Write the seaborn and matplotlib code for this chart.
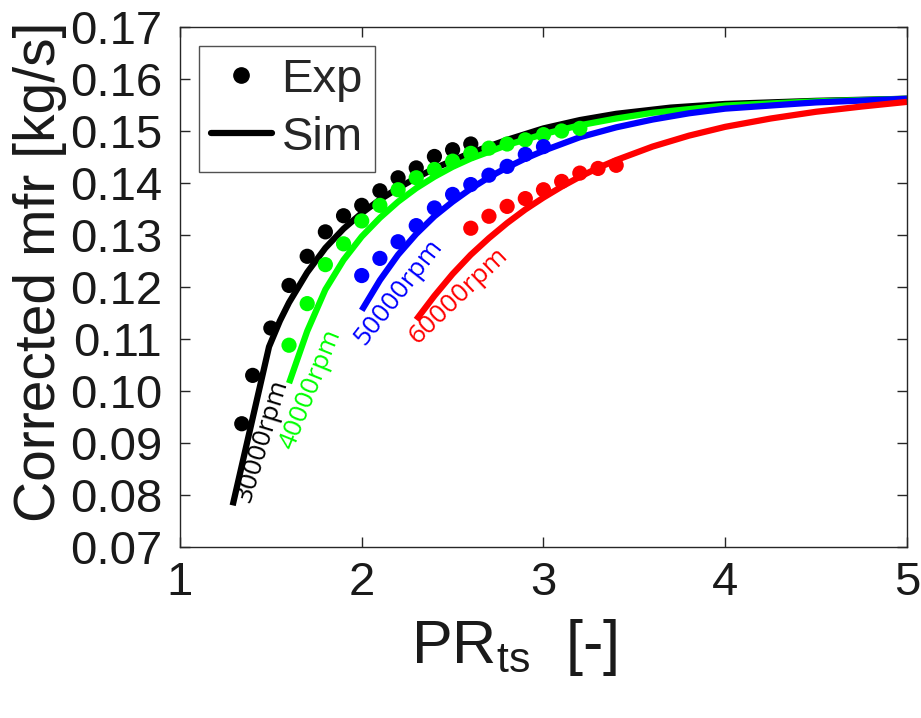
import matplotlib

matplotlib.use("Agg")

import matplotlib.pyplot as plt
import numpy as np
import pandas as pd
import seaborn as sns

# experimental points per speed line
EXP_30K_PR = [1.34, 1.4, 1.5, 1.6, 1.7, 1.8, 1.9, 2.0, 2.1, 2.2, 2.3, 2.4, 2.5, 2.6]
EXP_30K_MFR = [0.0937, 0.1030, 0.1121, 0.1203, 0.1259, 0.1306, 0.1337, 0.1357,
               0.1385, 0.1410, 0.1429, 0.1451, 0.1464, 0.1475]
EXP_40K_PR = [1.6, 1.7, 1.8, 1.9, 2.0, 2.1, 2.2, 2.3, 2.4, 2.5, 2.6, 2.7, 2.8, 2.9,
              3.0, 3.1, 3.2]
EXP_40K_MFR = [0.1088, 0.1168, 0.1243, 0.1283, 0.1327, 0.1357, 0.1387, 0.1410,
               0.1426, 0.1442, 0.1457, 0.1467, 0.1475, 0.1483, 0.1493, 0.1500, 0.1505]
EXP_50K_PR = [2.0, 2.1, 2.2, 2.3, 2.4, 2.5, 2.6, 2.7, 2.8, 2.9, 3.0]
EXP_50K_MFR = [0.1222, 0.1255, 0.1287, 0.1318, 0.1352, 0.1378, 0.1397, 0.1415,
               0.1432, 0.1455, 0.1470]
EXP_60K_PR = [2.6, 2.7, 2.8, 2.9, 3.0, 3.1, 3.2, 3.3, 3.4]
EXP_60K_MFR = [0.1313, 0.1336, 0.1355, 0.1370, 0.1387, 0.1403, 0.1419, 0.1428, 0.1434]

# simulated speed lines
SIM_30K_PR = [1.29, 1.49, 1.55, 1.6, 1.7, 1.8, 1.9, 2.0, 2.1, 2.2, 2.3, 2.4, 2.6, 2.8,
              3.0, 3.2, 3.4, 3.7, 4.0, 4.5, 5.0]
SIM_30K_MFR = [0.0780, 0.1085, 0.1135, 0.1170, 0.1228, 0.1275, 0.1312, 0.1342, 0.1368,
               0.1390, 0.1410, 0.1428, 0.1458, 0.1483, 0.1505, 0.1521, 0.1533, 0.1545,
               0.1552, 0.1558, 0.1562]
SIM_40K_PR = [1.6, 1.7, 1.8, 1.9, 2.0, 2.1, 2.2, 2.3, 2.4, 2.5, 2.6, 2.8, 3.0, 3.2,
              3.4, 3.6, 4.0, 4.5, 5.0]
SIM_40K_MFR = [0.1015, 0.1115, 0.1195, 0.1252, 0.1297, 0.1333, 0.1364, 0.1390, 0.1412,
               0.1431, 0.1447, 0.1473, 0.1494, 0.1511, 0.1524, 0.1535, 0.1549, 0.1557,
               0.1562]
SIM_50K_PR = [2.0, 2.1, 2.2, 2.3, 2.4, 2.5, 2.6, 2.7, 2.8, 2.9, 3.0, 3.2, 3.4, 3.6,
              3.8, 4.0, 4.5, 5.0]
SIM_50K_MFR = [0.1155, 0.1213, 0.1262, 0.1302, 0.1336, 0.1364, 0.1389, 0.1411, 0.1430,
               0.1447, 0.1462, 0.1488, 0.1507, 0.1522, 0.1534, 0.1543, 0.1555, 0.1562]
SIM_60K_PR = [2.3, 2.4, 2.5, 2.6, 2.7, 2.8, 2.9, 3.0, 3.1, 3.2, 3.3, 3.4, 3.6, 3.8,
              4.0, 4.25, 4.5, 4.75, 5.0]
SIM_60K_MFR = [0.1137, 0.1183, 0.1225, 0.1262, 0.1294, 0.1323, 0.1349, 0.1372, 0.1393,
               0.1412, 0.1429, 0.1444, 0.1470, 0.1491, 0.1508, 0.1524, 0.1537, 0.1547,
               0.1556]

SPEEDS = ["30000rpm", "40000rpm", "50000rpm", "60000rpm"]
COLORS = ["#000000", "#00ff00", "#0000ff", "#ff0000"]

# speed-line labels: (PR, mfr, angle)
LABEL_POS = [(1.455, 0.0904, 73), (1.72, 0.1004, 68), (2.205, 0.1190, 52), (2.535, 0.1183, 44)]


def build_frames() -> tuple[pd.DataFrame, pd.DataFrame]:
    exp_sets = [(EXP_30K_PR, EXP_30K_MFR), (EXP_40K_PR, EXP_40K_MFR),
                (EXP_50K_PR, EXP_50K_MFR), (EXP_60K_PR, EXP_60K_MFR)]
    sim_sets = [(SIM_30K_PR, SIM_30K_MFR), (SIM_40K_PR, SIM_40K_MFR),
                (SIM_50K_PR, SIM_50K_MFR), (SIM_60K_PR, SIM_60K_MFR)]
    exp = pd.concat(
        [pd.DataFrame({"pr": pr, "mfr": m, "speed": s}) for (pr, m), s in zip(exp_sets, SPEEDS)],
        ignore_index=True,
    )
    sim = pd.concat(
        [pd.DataFrame({"pr": pr, "mfr": m, "speed": s}) for (pr, m), s in zip(sim_sets, SPEEDS)],
        ignore_index=True,
    )
    return exp, sim


def main() -> None:
    exp, sim = build_frames()
    palette = dict(zip(SPEEDS, COLORS))

    sns.set_style("ticks")
    plt.rcParams["font.family"] = ["Liberation Sans", "DejaVu Sans"]

    fig = plt.figure(figsize=(9.21, 7.18), dpi=100)
    ax = fig.add_axes([0.1954, 0.2382, 0.7894, 0.7242])

    sns.lineplot(data=sim, x="pr", y="mfr", hue="speed", palette=palette,
                 linewidth=4.5, sort=False, estimator=None, legend=False, ax=ax,
                 solid_capstyle="butt", solid_joinstyle="round")
    sns.scatterplot(data=exp, x="pr", y="mfr", hue="speed", palette=palette,
                    s=120, linewidth=0, legend=False, ax=ax, zorder=3)

    for speed, color, (x, y, ang) in zip(SPEEDS, COLORS, LABEL_POS):
        ax.text(x, y, speed, color=color, rotation=ang, rotation_mode="anchor",
                ha="center", va="center", fontsize=19, family=["Open Sans", "DejaVu Sans"])

    ax.set_xlim(1, 5)
    ax.set_ylim(0.07, 0.17)
    ax.set_xticks([1, 2, 3, 4, 5])
    ax.set_yticks(np.round(np.arange(0.07, 0.1701, 0.01), 2))
    ax.yaxis.set_major_formatter(matplotlib.ticker.FormatStrFormatter("%.2f"))
    ax.tick_params(direction="in", length=7, width=1, labelsize=34, colors="#262626",
                   top=True, right=True)
    ax.tick_params(axis="y", pad=13)
    ax.tick_params(axis="x", pad=10)
    for lab in ax.get_xticklabels() + ax.get_yticklabels():
        lab.set_color("#1a1a1a")
    for spine in ax.spines.values():
        spine.set_visible(True)
        spine.set_color("#262626")
        spine.set_linewidth(1)

    ax.set_xlabel("PR$_{\\mathregular{ts}}$  [-]", fontsize=44, color="#1a1a1a", labelpad=4)
    ax.xaxis.set_label_coords(0.46, -0.135)
    ax.set_ylabel("Corrected mfr [kg/s]", fontsize=41, color="#1a1a1a")
    ax.yaxis.set_label_coords(-0.155, 0.53)

    exp_handle = plt.Line2D([], [], color="black", marker="o", linestyle="none", markersize=11)
    sim_handle = plt.Line2D([], [], color="black", linewidth=4.5)
    leg = ax.legend([exp_handle, sim_handle], ["Exp", "Sim"], loc="upper left",
                    fontsize=34, frameon=True, fancybox=False, edgecolor="#262626",
                    handlelength=1.3, borderaxespad=0.4, borderpad=0.25, labelspacing=0.3,
                    handletextpad=0.2)
    leg.get_frame().set_linewidth(1)

    fig.savefig("out.png", dpi=100)
    plt.close(fig)


if __name__ == "__main__":
    main()
